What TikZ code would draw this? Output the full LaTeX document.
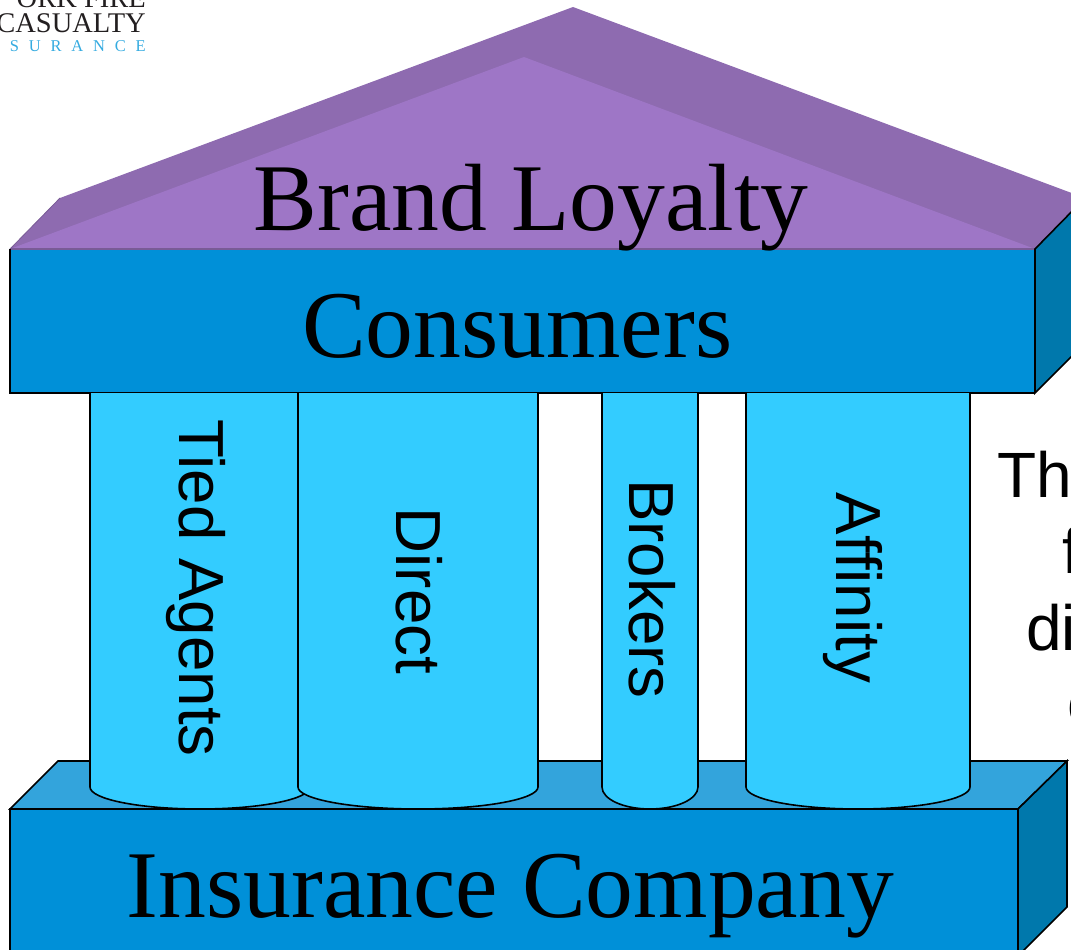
\documentclass[tikz,border=0pt]{standalone}
\usepackage{fontspec}
\setmainfont{Liberation Serif}
\newfontfamily\sansfont{Liberation Sans}
\definecolor{roofback}{HTML}{8E6BB0}
\definecolor{rooffront}{HTML}{9E76C6}
\definecolor{beamfront}{HTML}{0090D8}
\definecolor{beamside}{HTML}{0078AC}
\definecolor{basetop}{HTML}{33A4DC}
\definecolor{column}{HTML}{33CCFF}
\definecolor{logoblue}{HTML}{35ABE0}
\definecolor{logoblack}{HTML}{231F20}
\tikzset{
    edge/.style={draw=black, line width=1.6pt, line join=miter},
    bigtext/.style={inner sep=0, anchor=base west, font=\fontsize{95.6}{96}\selectfont},
    columntext/.style={inner sep=0, rotate=-90, font=\sansfont\fontsize{63.7}{64}\selectfont},
    sidetext/.style={inner sep=0, anchor=base west, font=\sansfont\fontsize{64}{64}\selectfont},
    logotext/.style={inner sep=0, anchor=base east, text=logoblack, font=\fontsize{28.5}{29}\selectfont}
}
\begin{document}
\begin{tikzpicture}[x=1pt, y=-1pt]
        \useasboundingbox (0, 0) rectangle (1071, 950);
        \clip (0, 0) rectangle (1071, 950);
        % logo
        \node[logotext] (logofire) at (146, 8) {ORK FIRE};
        \node[logotext] (logocasualty) at (146, 33) {CASUALTY};
        \node[logotext, text=logoblue, font=\fontsize{16.5}{17}\selectfont] (logosurance) at (146, 52) {S\hspace{9.8pt}U\hspace{9.8pt}R\hspace{9.8pt}A\hspace{9.8pt}N\hspace{9.8pt}C\hspace{9.8pt}E};
        % roof
        \fill[roofback] (10, 249) -- (60, 198) -- (573, 7) -- (1085, 198) -- (1035, 249) -- cycle;
        \fill[rooffront] (10, 249) -- (524, 57) -- (1035, 249) -- cycle;
        \draw[roofback!85!black, line width=0.8pt] (10, 249) -- (60, 198);
        % upper beam
        \fill[beamfront] (10, 249) rectangle (1035, 393);
        \fill[beamside] (1035, 249) -- (1085, 198) -- (1085, 343) -- (1035, 393) -- cycle;
        \draw[roofback!85!black, line width=1.2pt] (10, 249) -- (1035, 249);
        \draw[edge] (1085, 198) -- (1035, 249) -- (1035, 393) -- (1085, 343);
        \draw[edge] (10, 249) -- (10, 393) -- (1035, 393);
        % base
        \draw[edge, fill=basetop] (10, 809) -- (58, 761) -- (1067, 761) -- (1018, 809) -- cycle;
        \draw[edge, fill=beamside] (1018, 809) -- (1067, 761) -- (1067, 907) -- (1018, 956) -- cycle;
        \draw[edge, fill=beamfront] (10, 809) rectangle (1018, 960);
        % columns
        \draw[edge, fill=column] (90, 393) -- (90, 787) arc (180:0:110 and 22) -- (310, 393);
        \draw[edge, fill=column] (298, 393) -- (298, 787) arc (180:0:120 and 22) -- (538, 393);
        \draw[edge, fill=column] (602, 393) -- (602, 787) arc (180:0:48 and 22) -- (698, 393);
        \draw[edge, fill=column] (746, 393) -- (746, 787) arc (180:0:112 and 22) -- (970, 393);
        % labels
        \node[bigtext] (brand) at (253.5, 230) {Brand Loyalty};
        \node[bigtext] (consumers) at (302, 357) {Consumers};
        \node[bigtext] (company) at (126.5, 917) {Insurance Company};
        \node[columntext] (tied) at (196, 588) {Tied Agents};
        \node[columntext] (direct) at (419, 591) {Direct};
        \node[columntext] (brokers) at (652, 589) {Brokers};
        \node[columntext] (affinity) at (853, 588) {Affinity};
        % cut off text on the right
        \node[sidetext] (lineone) at (997, 497) {The};
        \node[sidetext] (linetwo) at (1062, 573) {f};
        \node[sidetext] (linethree) at (1026, 650) {dis};
        \node[sidetext] (linefour) at (1067, 725) {c};
    \end{tikzpicture}
\end{document}
